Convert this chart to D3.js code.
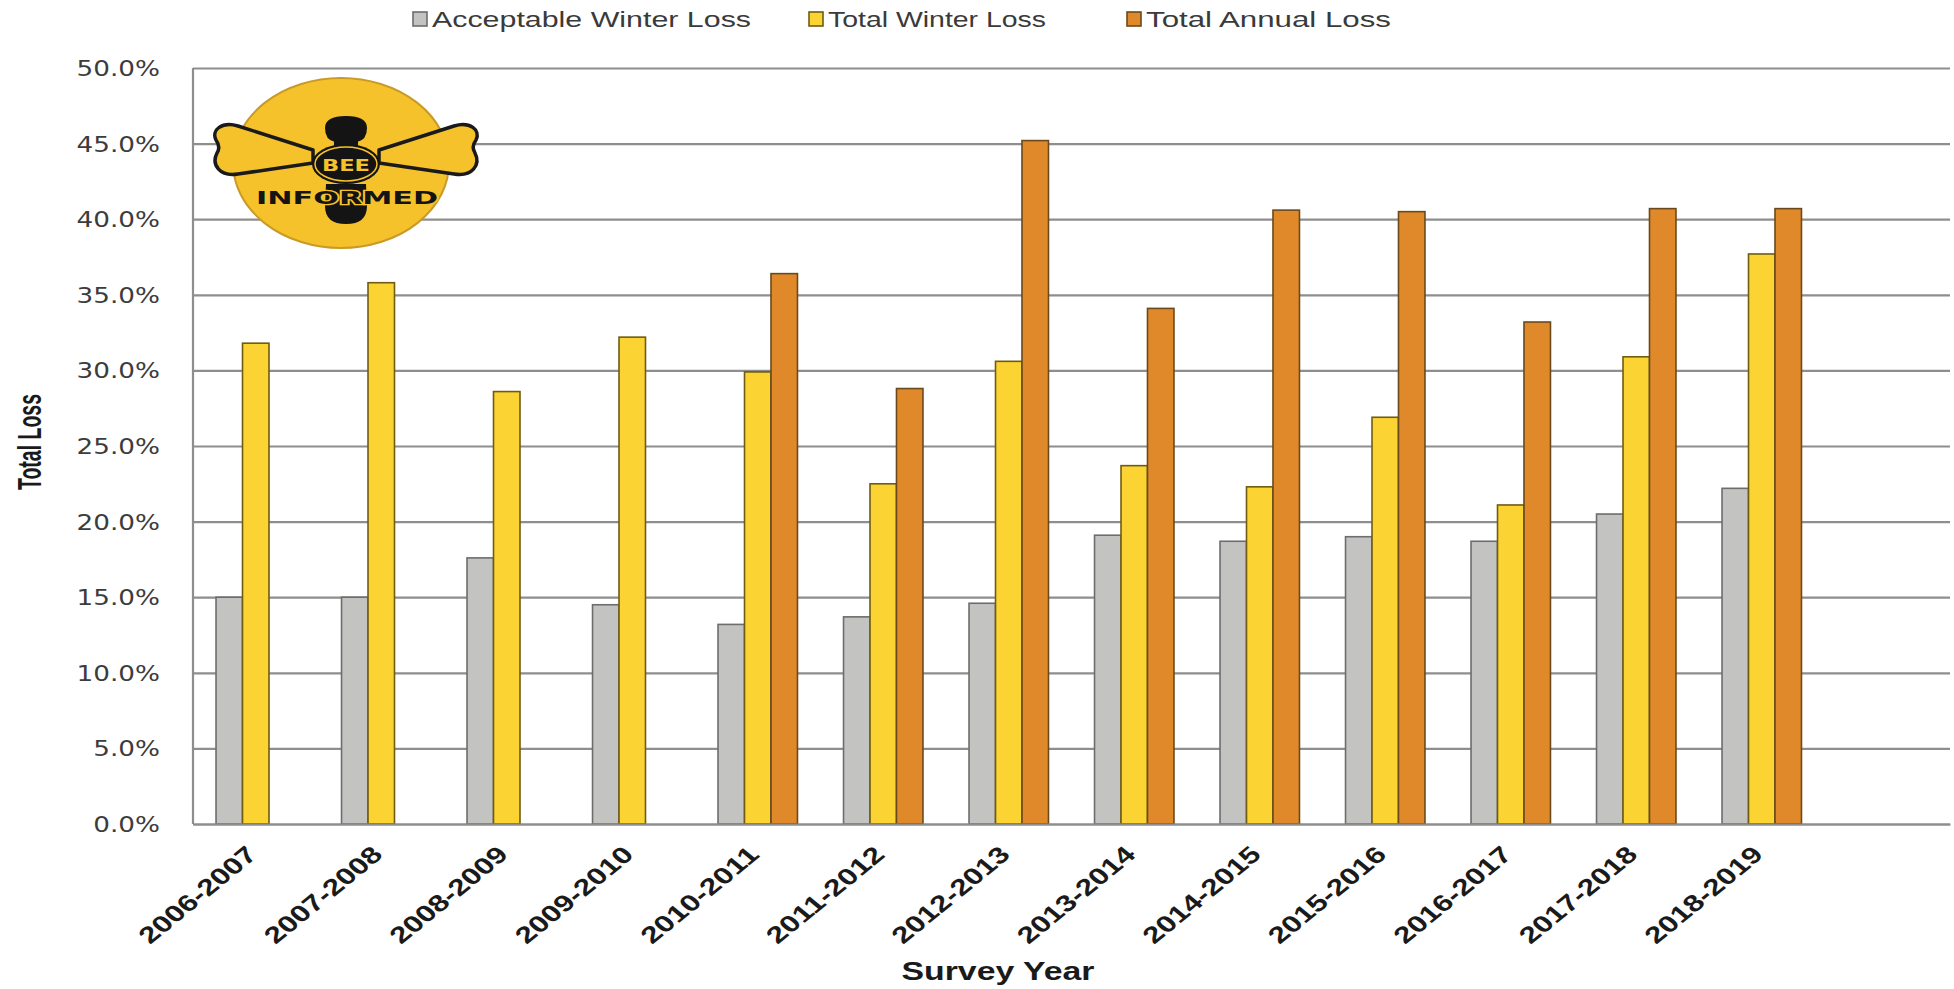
<!DOCTYPE html>
<html>
<head>
<meta charset="utf-8">
<script src="https://cdn.jsdelivr.net/npm/d3@7"></script>
<style>
  html, body { margin: 0; padding: 0; background: #fff; }
  svg { display: block; }
</style>
</head>
<body>
<svg id="chart" width="1954" height="989"></svg>
<script>
// Honey bee colony losses by survey year (percent of colonies)
const surveyYears = ["2006-2007", "2007-2008", "2008-2009", "2009-2010", "2010-2011",
  "2011-2012", "2012-2013", "2013-2014", "2014-2015", "2015-2016", "2016-2017",
  "2017-2018", "2018-2019"];
const acceptableWinterLoss = [15.0, 15.0, 17.6, 14.5, 13.2, 13.7, 14.6, 19.1, 18.7, 19.0, 18.7, 20.5, 22.2];
const totalWinterLoss = [31.8, 35.8, 28.6, 32.2, 29.9, 22.5, 30.6, 23.7, 22.3, 26.9, 21.1, 30.9, 37.7];
const totalAnnualLoss = [null, null, null, null, 36.4, 28.8, 45.2, 34.1, 40.6, 40.5, 33.2, 40.7, 40.7];
const seriesNames = ["Acceptable Winter Loss", "Total Winter Loss", "Total Annual Loss"];
const yTicks = [0, 5, 10, 15, 20, 25, 30, 35, 40, 45, 50];

const seriesValues = [acceptableWinterLoss, totalWinterLoss, totalAnnualLoss];
const fills = ["#c3c3c1", "#fbd433", "#e0892a"];
const strokes = ["#6d6d6d", "#6f5c12", "#6a4a1c"];

const svg = d3.select("#chart");
const plotLeft = 193, plotRight = 1950, plotTop = 68, plotBottom = 824;

// the category axis keeps one trailing empty slot
const slots = surveyYears.concat([""]);
const x = d3.scaleBand().domain(slots).range([plotLeft, plotRight])
  .paddingInner(0.367).paddingOuter(0.1835);
const xs = d3.scaleBand().domain(seriesNames).range([0, x.bandwidth()]);
const y = d3.scaleLinear().domain([0, 50]).range([plotBottom, plotTop]);

// horizontal gridlines
const grid = svg.append("g").attr("transform", `translate(${plotLeft},0)`)
  .call(d3.axisLeft(y).tickValues(yTicks).tickSize(-(plotRight - plotLeft)).tickFormat(""));
grid.select(".domain").remove();
grid.selectAll(".tick line").attr("stroke", "#8e8e8e").attr("stroke-width", 2.2);

// y tick labels
const yAxis = svg.append("g").attr("transform", `translate(${plotLeft},0)`)
  .call(d3.axisLeft(y).tickValues(yTicks).tickSize(0).tickFormat(d => d.toFixed(1) + "%"));
yAxis.select(".domain").remove();
yAxis.selectAll(".tick text")
  .attr("x", 0).attr("dy", "0.36em")
  .attr("transform", "translate(-33,0) scale(1.25,1)")
  .attr("font-family", "DejaVu Sans").attr("font-size", 21)
  .attr("fill", "#3c3c3c").attr("text-anchor", "end");

// bars
const groups = svg.append("g").selectAll("g.year")
  .data(surveyYears).join("g")
  .attr("transform", d => `translate(${x(d)},0)`);
groups.selectAll("rect")
  .data((d, i) => seriesNames.map((s, k) => ({ s, k, v: seriesValues[k][i] })).filter(e => e.v != null))
  .join("rect")
  .attr("x", e => xs(e.s))
  .attr("width", xs.bandwidth())
  .attr("y", e => y(e.v))
  .attr("height", e => plotBottom - y(e.v))
  .attr("fill", e => fills[e.k])
  .attr("stroke", e => strokes[e.k])
  .attr("stroke-width", 1.6);

// axis lines
svg.append("line").attr("x1", plotLeft).attr("x2", plotLeft).attr("y1", plotTop).attr("y2", plotBottom)
  .attr("stroke", "#8e8e8e").attr("stroke-width", 2.2);
const xAxis = svg.append("g").attr("transform", `translate(0,${plotBottom})`)
  .call(d3.axisBottom(x).tickValues(surveyYears).tickSize(0));
xAxis.select(".domain").attr("stroke", "#8e8e8e").attr("stroke-width", 2.2);
xAxis.selectAll(".tick text")
  .attr("x", 0).attr("y", 0).attr("dy", 0)
  .attr("text-anchor", "end")
  .attr("transform", "translate(3,32) scale(1.22,1) rotate(-45)")
  .attr("font-family", "Liberation Sans").attr("font-weight", "bold")
  .attr("font-size", 23).attr("fill", "#1a1a1a")
  .attr("textLength", 126).attr("lengthAdjust", "spacingAndGlyphs");

// axis titles
svg.append("text")
  .attr("transform", "translate(41,442) scale(1.45,1) rotate(-90)")
  .attr("text-anchor", "middle")
  .attr("font-family", "Liberation Sans").attr("font-weight", "bold")
  .attr("font-size", 23).attr("fill", "#1a1a1a")
  .attr("textLength", 96).attr("lengthAdjust", "spacingAndGlyphs")
  .text("Total Loss");
svg.append("text")
  .attr("x", 998).attr("y", 980)
  .attr("text-anchor", "middle")
  .attr("font-family", "Liberation Sans").attr("font-weight", "bold")
  .attr("font-size", 25).attr("fill", "#1a1a1a")
  .attr("textLength", 193).attr("lengthAdjust", "spacingAndGlyphs")
  .text("Survey Year");

// legend
const legendX = [413, 809, 1127];
const legendW = [338, 237, 264];
const legend = svg.append("g").selectAll("g").data(seriesNames).join("g")
  .attr("transform", (d, i) => `translate(${legendX[i]},0)`);
legend.append("rect")
  .attr("x", 0).attr("y", 12).attr("width", 14).attr("height", 14)
  .attr("fill", (d, i) => fills[i]).attr("stroke", (d, i) => strokes[i]).attr("stroke-width", 1.6);
legend.append("text")
  .attr("x", 19).attr("y", 27)
  .attr("font-family", "Liberation Sans").attr("font-size", 22).attr("fill", "#3a3a3a")
  .attr("textLength", (d, i) => legendW[i] - 19).attr("lengthAdjust", "spacingAndGlyphs")
  .text(d => d);

// Bee Informed badge
const gold = "#f6c22c";
const logo = svg.append("g");
logo.append("ellipse").attr("cx", 341).attr("cy", 163).attr("rx", 108).attr("ry", 85)
  .attr("fill", gold).attr("stroke", "#c99a26").attr("stroke-width", 2);
const wing = "M 313,150 L 238,126 C 222,121 211,130 216,140 Q 221,147 217,153 C 211,165 220,177 238,174 L 313,163 Z";
logo.append("path").attr("d", wing)
  .attr("fill", gold).attr("stroke", "#1a1a1a").attr("stroke-width", 3.5).attr("stroke-linejoin", "round");
logo.append("path").attr("d", wing).attr("transform", "translate(692,0) scale(-1,1)")
  .attr("fill", gold).attr("stroke", "#1a1a1a").attr("stroke-width", 3.5).attr("stroke-linejoin", "round");
// head, neck, thorax, abdomen
logo.append("path")
  .attr("d", "M 325,128 Q 325,116 346,116 Q 367,116 367,128 Q 367,140 357,142 L 335,142 Q 325,140 325,128 Z")
  .attr("fill", "#141414");
logo.append("rect").attr("x", 334).attr("y", 139).attr("width", 24).attr("height", 10).attr("fill", "#141414");
logo.append("path")
  .attr("d", "M 326,184 L 366,184 L 367,206 Q 367,224 346,224 Q 325,224 325,206 Z")
  .attr("fill", "#141414");
logo.append("ellipse").attr("cx", 346).attr("cy", 164).attr("rx", 34).attr("ry", 20)
  .attr("fill", "#141414");
logo.append("ellipse").attr("cx", 346).attr("cy", 164).attr("rx", 31).attr("ry", 17)
  .attr("fill", "none").attr("stroke", gold).attr("stroke-width", 1.5);
logo.append("text").attr("x", 346).attr("y", 171).attr("text-anchor", "middle")
  .attr("font-family", "DejaVu Sans").attr("font-weight", "bold").attr("font-size", 16)
  .attr("fill", gold).attr("textLength", 48).attr("lengthAdjust", "spacingAndGlyphs")
  .text("BEE");
logo.append("text").attr("x", 347).attr("y", 204).attr("text-anchor", "middle")
  .attr("font-family", "DejaVu Sans").attr("font-weight", "bold").attr("font-size", 18)
  .attr("fill", "#141414").attr("stroke", gold).attr("stroke-width", 2.5)
  .attr("paint-order", "stroke")
  .attr("textLength", 182).attr("lengthAdjust", "spacingAndGlyphs")
  .text("INFORMED");
</script>
</body>
</html>
